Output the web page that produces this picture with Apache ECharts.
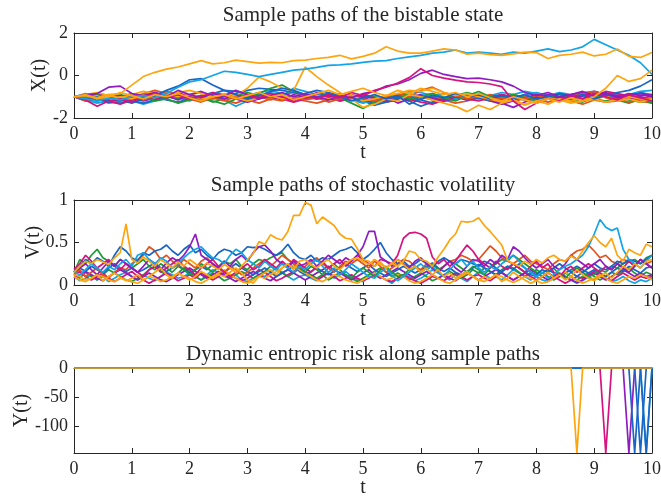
<!DOCTYPE html>
<html><head><meta charset="utf-8">
<script src="https://cdn.jsdelivr.net/npm/echarts@6/dist/echarts.min.js"></script>
<style>html,body{margin:0;padding:0;background:#fff}#c{width:661px;height:496px}</style>
</head><body><div id="c"></div>
<script>
// ---------- time grids ----------
const tX = [0,0.2,0.4,0.6,0.8,1,1.2,1.4,1.6,1.8,
  2,2.2,2.4,2.6,2.8,3,3.2,3.4,3.6,3.8,
  4,4.2,4.4,4.6,4.8,5,5.2,5.4,5.6,5.8,
  6,6.2,6.4,6.6,6.8,7,7.2,7.4,7.6,7.8,
  8,8.2,8.4,8.6,8.8,9,9.2,9.4,9.6,9.8,10];
const tV = [0,0.1,0.2,0.3,0.4,0.5,0.6,0.7,0.8,0.9,
  1,1.1,1.2,1.3,1.4,1.5,1.6,1.7,1.8,1.9,
  2,2.1,2.2,2.3,2.4,2.5,2.6,2.7,2.8,2.9,
  3,3.1,3.2,3.3,3.4,3.5,3.6,3.7,3.8,3.9,
  4,4.1,4.2,4.3,4.4,4.5,4.6,4.7,4.8,4.9,
  5,5.1,5.2,5.3,5.4,5.5,5.6,5.7,5.8,5.9,
  6,6.1,6.2,6.3,6.4,6.5,6.6,6.7,6.8,6.9,
  7,7.1,7.2,7.3,7.4,7.5,7.6,7.7,7.8,7.9,
  8,8.1,8.2,8.3,8.4,8.5,8.6,8.7,8.8,8.9,
  9,9.1,9.2,9.3,9.4,9.5,9.6,9.7,9.8,9.9,10];

// ---------- tick values ----------
const xTicks = [0,1,2,3,4,5,6,7,8,9,10];
const yTicksX = [-2,0,2];
const yTicksV = [0,0.5,1];
const yTicksY = [-100,-50,0];

// ---------- X(t): bistable state ----------
const xOrangeUp = [-1.0,-0.95,-1.05,-0.9,-0.85,-0.45,-0.05,0.15,0.3,0.4,
  0.55,0.7,0.55,0.6,0.72,0.65,0.58,0.62,0.6,0.7,
  0.72,0.8,0.85,0.95,0.78,0.9,1.05,1.35,1.15,1.05,
  1.05,1.15,1.25,1.2,1.0,1.05,0.98,0.95,1.02,1.1,
  1.08,0.8,0.95,1.0,1.1,0.92,1.0,1.25,0.9,0.85,1.08];
const xBlueUp = [-1.0,-1.1,-1.2,-1.05,-1.15,-1.0,-0.95,-1.05,-0.85,-0.55,
  -0.3,-0.2,0.0,0.2,0.15,0.05,-0.05,0.05,0.15,0.25,
  0.3,0.38,0.48,0.5,0.55,0.62,0.68,0.7,0.8,0.88,
  0.95,1.05,1.1,1.2,1.05,1.1,1.05,1.0,1.1,1.05,
  1.15,1.25,1.12,1.2,1.35,1.7,1.45,1.2,0.95,0.6,0.05];
const xOrangeMid = [-1.0,-1.1,-0.95,-1.2,-1.0,-1.1,-0.9,-1.05,-0.85,-1.0,
  -0.9,-1.1,-1.0,-0.85,-0.95,-0.6,-0.08,-0.3,-0.6,-0.7,
  0.4,-0.05,-0.45,-0.8,-1.1,-1.5,-1.35,-1.1,-1.2,-0.9,
  -1.0,-1.15,-1.3,-1.45,-1.7,-1.4,-1.6,-1.3,-1.15,-1.4,
  -1.2,-1.35,-1.1,-1.2,-1.05,-1.15,-0.95,-1.2,-1.1,-1.25,-1.1];
const xOrangeEnd = [-1.0,-0.9,-1.1,-1.0,-0.8,-0.95,-1.1,-0.9,-1.0,-0.85,
  -1.05,-1.2,-1.0,-0.9,-1.1,-0.95,-0.8,-1.0,-0.9,-1.15,
  -1.0,-0.85,-0.7,-0.9,-0.75,-0.6,-0.8,-0.95,-0.7,-0.85,
  -0.6,-0.75,-0.9,-0.8,-1.0,-0.85,-1.05,-1.2,-1.0,-1.15,
  -1.3,-1.1,-1.25,-1.05,-1.2,-1.0,-0.6,0.0,-0.28,-0.15,0.25];
const xMagentaPeak = [-1.0,-1.15,-1.45,-1.2,-1.1,-1.25,-1.0,-0.85,-1.05,-0.9,
  -1.1,-1.0,-0.8,-0.95,-1.1,-0.9,-1.05,-0.85,-1.0,-1.2,
  -0.95,-1.1,-0.9,-1.05,-0.8,-0.95,-0.7,-0.55,-0.35,-0.1,
  0.32,0.0,-0.12,-0.22,-0.3,-0.33,-0.4,-0.52,-1.2,-1.6,
  -1.3,-1.1,-1.2,-0.95,-1.1,-0.85,-1.0,-1.15,-0.9,-1.05,-1.2];
const xPurplePeak = [-1.0,-0.9,-0.85,-0.55,-0.5,-0.85,-0.95,-0.8,-1.0,-0.7,
  -0.9,-1.05,-0.85,-0.95,-0.7,-0.9,-1.1,-0.95,-0.8,-1.0,
  -0.85,-1.0,-1.15,-0.95,-1.05,-0.85,-0.75,-0.5,-0.4,-0.2,
  0.1,0.25,0.05,-0.05,-0.15,-0.12,-0.2,-0.3,-0.5,-0.8,
  -0.95,-0.8,-1.0,-0.9,-0.75,-0.95,-0.8,-1.05,-0.9,-0.85,-1.0];
const xBlueBump = [-1.0,-1.1,-1.0,-1.2,-1.15,-1.3,-1.1,-0.95,-0.7,-0.5,
  -0.2,-0.15,-0.45,-0.7,-0.9,-1.1,-0.95,-0.75,-0.6,-0.7,
  -0.9,-1.05,-0.85,-1.0,-1.2,-1.05,-0.9,-1.1,-0.95,-1.35,
  -1.1,-0.95,-1.05,-0.85,-1.0,-0.9,-1.1,-0.95,-1.05,-0.9,
  -1.1,-1.0,-0.85,-1.0,-0.9,-1.1,-0.95,-0.8,-0.7,-0.5,-0.2];
const xGreenA = [-1.0,-1.05,-0.9,-1.1,-1.0,-0.85,-1.0,-1.2,-1.1,-1.3,
  -1.15,-1.0,-1.2,-1.35,-1.1,-1.0,-0.85,-0.6,-0.45,-0.75,
  -0.9,-1.0,-0.85,-1.05,-1.3,-1.55,-1.25,-1.05,-0.9,-1.1,
  -1.0,-0.85,-1.05,-1.2,-0.95,-0.75,-1.0,-1.1,-0.9,-1.05,
  -1.15,-1.0,-0.9,-1.1,-1.25,-1.05,-0.95,-1.15,-1.3,-1.1,-1.3];
const xRedA = [-1.0,-1.2,-1.05,-0.9,-1.1,-1.0,-1.15,-0.95,-0.75,-0.9,
  -1.1,-1.25,-1.05,-1.2,-1.0,-1.15,-1.3,-1.1,-1.2,-1.0,
  -1.15,-1.05,-1.25,-1.1,-0.95,-1.1,-1.2,-1.0,-0.85,-1.0,
  -0.7,-0.55,-0.8,-0.95,-1.1,-1.0,-1.15,-1.05,-1.2,-1.1,
  -0.95,-1.1,-1.2,-1.0,-0.85,-0.75,-1.05,-1.1,-1.25,-1.15,-1.05];
const xSkyA = [-1.0,-0.85,-1.1,-1.3,-1.2,-1.1,-0.95,-1.1,-0.9,-1.05,
  -1.2,-1.0,-0.85,-1.15,-1.45,-1.2,-1.0,-0.8,-0.95,-0.6,
  -0.75,-0.9,-1.05,-0.9,-1.1,-1.0,-1.3,-1.15,-0.95,-0.75,
  -0.8,-0.95,-0.85,-1.0,-0.9,-1.05,-0.95,-0.8,-0.9,-0.75,
  -0.85,-0.95,-0.8,-0.9,-0.8,-0.75,-0.9,-0.85,-0.95,-0.8,-0.9];
const xPurpleA = [-1.0,-1.1,-0.85,-0.95,-1.1,-0.9,-1.05,-0.8,-0.95,-1.15,
  -0.9,-0.75,-0.95,-1.1,-0.9,-1.05,-0.85,-1.0,-1.15,-0.9,
  -1.05,-0.8,-0.95,-1.1,-0.9,-1.05,-1.2,-1.0,-1.3,-1.1,
  -0.95,-1.1,-1.2,-1.0,-1.15,-0.95,-1.1,-1.3,-1.5,-1.25,
  -1.05,-0.9,-1.05,-1.15,-0.95,-0.75,-0.9,-1.0,-0.85,-0.95,-0.9];
const xMagentaA = [-1.0,-0.9,-1.05,-1.2,-1.35,-1.15,-1.0,-1.1,-0.95,-0.8,
  -1.0,-1.15,-1.05,-0.9,-1.0,-1.2,-1.05,-0.95,-1.1,-1.25,
  -1.1,-0.95,-1.0,-1.2,-1.05,-0.9,-1.05,-1.15,-0.95,-1.1,
  -1.25,-1.35,-1.15,-1.0,-1.1,-1.2,-1.05,-0.9,-1.0,-1.1,
  -0.95,-1.05,-1.2,-0.9,-0.8,-0.95,-0.75,-0.85,-1.0,-1.1,-0.95];
const xBlueA = [-1.0,-1.2,-1.1,-1.25,-1.3,-1.2,-1.3,-1.15,-1.05,-0.9,
  -1.05,-0.95,-1.1,-1.0,-0.85,-0.7,-0.6,-0.65,-0.7,-0.8,
  -0.95,-1.1,-1.0,-0.85,-1.0,-1.15,-1.3,-1.2,-1.05,-1.2,
  -1.45,-1.25,-1.1,-1.0,-1.15,-1.05,-1.2,-1.1,-0.95,-1.05,
  -1.15,-1.0,-1.1,-0.95,-1.05,-0.9,-1.0,-1.1,-0.95,-1.05,-1.15];
const xGreenB = [-1.0,-0.95,-1.15,-1.05,-0.9,-1.05,-0.9,-0.85,-1.0,-1.1,
  -0.95,-1.05,-1.25,-1.1,-0.95,-0.8,-0.95,-1.05,-0.9,-0.8,
  -0.95,-1.1,-1.0,-1.15,-1.05,-0.9,-1.0,-1.1,-0.95,-0.85,
  -1.0,-1.15,-1.05,-0.95,-0.8,-0.95,-1.1,-1.0,-0.9,-1.05,
  -1.2,-1.1,-1.0,-1.15,-1.0,-1.1,-1.2,-1.05,-1.15,-1.25,-1.2];
const xRedB = [-1.0,-1.05,-1.2,-1.1,-0.95,-1.1,-0.85,-0.7,-0.85,-1.0,
  -0.9,-0.8,-1.0,-1.15,-1.3,-1.1,-1.0,-1.15,-0.95,-1.1,
  -1.2,-1.3,-1.15,-1.0,-1.15,-1.25,-1.1,-0.95,-1.05,-1.2,
  -1.1,-1.0,-1.15,-1.3,-1.2,-1.05,-0.9,-1.05,-1.15,-1.0,
  -1.1,-1.25,-1.1,-1.2,-1.35,-1.15,-1.25,-1.2,-1.05,-1.2,-1.3];
const xSkyB = [-1.0,-1.15,-1.3,-1.2,-1.05,-1.2,-1.35,-1.2,-1.05,-0.95,
  -1.1,-0.95,-0.8,-0.9,-1.05,-0.95,-0.8,-0.7,-0.85,-1.0,
  -1.1,-0.95,-0.85,-1.0,-1.15,-1.3,-1.15,-1.0,-0.9,-1.05,
  -0.95,-0.85,-1.0,-1.1,-0.95,-0.85,-1.0,-1.15,-1.05,-0.9,
  -0.8,-0.95,-1.05,-0.9,-1.0,-1.1,-0.95,-1.05,-0.9,-0.75,-0.7];
const xOrangeB = [-1.0,-0.9,-0.8,-0.95,-1.05,-0.9,-0.75,-0.85,-0.95,-0.8,
  -0.7,-0.85,-1.0,-0.9,-1.05,-1.2,-1.05,-0.95,-1.1,-1.0,
  -0.85,-0.95,-1.1,-1.0,-0.9,-1.2,-1.1,-0.95,-0.85,-0.7,
  -0.75,-0.6,-0.8,-0.95,-0.85,-1.0,-1.1,-1.25,-1.15,-1.35,
  -1.2,-1.05,-1.15,-1.3,-1.2,-1.1,-1.25,-1.15,-1.0,-1.1,-1.15];
const xBlueB = [-1.0,-1.05,-0.95,-1.1,-1.2,-1.05,-0.9,-1.0,-1.15,-1.25,
  -1.1,-0.95,-0.85,-0.7,-0.75,-0.9,-1.05,-0.95,-1.1,-1.0,
  -0.85,-0.7,-0.8,-0.95,-1.1,-1.2,-1.4,-1.25,-1.1,-1.0,
  -1.15,-1.3,-1.2,-1.05,-0.95,-1.1,-1.0,-0.9,-1.05,-1.15,
  -1.0,-0.9,-1.05,-1.15,-1.0,-0.85,-0.95,-1.05,-0.9,-0.8,-0.95];
const xPurpleB = [-1.0,-1.1,-1.2,-1.05,-0.95,-1.1,-1.2,-1.05,-0.9,-1.0,
  -1.1,-1.2,-1.05,-0.95,-1.1,-1.25,-1.1,-0.95,-1.05,-1.15,
  -1.0,-0.9,-1.05,-1.2,-1.1,-0.95,-1.1,-1.25,-1.15,-1.0,
  -0.9,-1.05,-1.2,-1.1,-0.95,-1.05,-1.2,-1.35,-1.2,-1.05,
  -0.9,-1.0,-0.85,-0.95,-1.1,-1.0,-0.85,-0.95,-1.1,-1.0,-1.1];

// ---------- V(t): stochastic volatility ----------
const vOrangeA = [0.15,0.22,0.28,0.25,0.3,0.27,0.24,0.32,0.38,0.72,
  0.3,0.26,0.33,0.28,0.22,0.3,0.25,0.2,0.27,0.22,
  0.3,0.25,0.2,0.26,0.22,0.18,0.24,0.2,0.15,0.22,
  0.3,0.37,0.51,0.48,0.59,0.55,0.53,0.63,0.82,0.82,
  0.97,0.94,0.72,0.8,0.75,0.7,0.6,0.55,0.54,0.43,
  0.3,0.28,0.22,0.27,0.2,0.25,0.3,0.24,0.18,0.22,
  0.15,0.2,0.12,0.18,0.1,0.14,0.08,0.12,0.16,0.1,
  0.05,0.1,0.07,0.12,0.04,0.08,0.15,0.1,0.06,0.02,
  0.05,0.1,0.15,0.08,0.12,0.06,0.1,0.18,0.12,0.08,
  0.05,0.1,0.14,0.08,0.15,0.22,0.18,0.25,0.2,0.28,0.3];
const vOrangeB = [0.12,0.1,0.06,0.08,0.12,0.05,0.1,0.14,0.09,0.05,
  0.08,0.12,0.06,0.1,0.15,0.2,0.12,0.08,0.14,0.1,
  0.06,0.1,0.16,0.12,0.08,0.12,0.1,0.15,0.2,0.14,
  0.06,0.02,0.1,0.14,0.18,0.12,0.2,0.25,0.18,0.28,
  0.3,0.24,0.2,0.26,0.3,0.22,0.18,0.25,0.3,0.32,
  0.28,0.24,0.3,0.25,0.2,0.26,0.22,0.28,0.4,0.38,
  0.3,0.28,0.22,0.33,0.42,0.53,0.6,0.75,0.74,0.75,
  0.79,0.7,0.63,0.55,0.47,0.29,0.25,0.22,0.28,0.24,
  0.3,0.26,0.32,0.35,0.3,0.28,0.34,0.3,0.4,0.5,
  0.58,0.5,0.45,0.55,0.35,0.28,0.42,0.38,0.35,0.48,0.45];
const vSkyA = [0.15,0.12,0.18,0.25,0.2,0.15,0.22,0.18,0.25,0.3,
  0.22,0.35,0.38,0.3,0.25,0.32,0.28,0.2,0.25,0.32,
  0.38,0.42,0.45,0.38,0.32,0.3,0.25,0.35,0.42,0.38,
  0.3,0.25,0.2,0.28,0.22,0.18,0.25,0.2,0.15,0.22,
  0.18,0.25,0.3,0.22,0.15,0.2,0.12,0.18,0.25,0.2,
  0.15,0.1,0.08,0.15,0.2,0.12,0.05,0.1,0.15,0.2,
  0.25,0.18,0.22,0.15,0.1,0.18,0.25,0.3,0.22,0.28,
  0.2,0.15,0.22,0.18,0.25,0.3,0.35,0.28,0.2,0.15,
  0.1,0.15,0.08,0.12,0.18,0.22,0.25,0.3,0.35,0.45,
  0.6,0.77,0.68,0.64,0.67,0.42,0.3,0.25,0.2,0.28,0.35];
const vPurpleA = [0.15,0.2,0.25,0.18,0.12,0.2,0.28,0.22,0.3,0.25,
  0.2,0.15,0.22,0.3,0.25,0.18,0.26,0.32,0.28,0.35,
  0.45,0.6,0.35,0.3,0.25,0.2,0.28,0.22,0.3,0.35,
  0.28,0.38,0.45,0.47,0.4,0.3,0.25,0.2,0.28,0.22,
  0.25,0.3,0.22,0.28,0.35,0.3,0.25,0.32,0.28,0.35,
  0.45,0.63,0.63,0.33,0.28,0.22,0.3,0.25,0.2,0.28,
  0.32,0.25,0.2,0.15,0.22,0.28,0.2,0.15,0.22,0.3,
  0.28,0.22,0.3,0.25,0.35,0.3,0.45,0.4,0.32,0.25,
  0.2,0.25,0.3,0.22,0.18,0.25,0.35,0.3,0.25,0.2,
  0.25,0.3,0.22,0.18,0.25,0.2,0.15,0.22,0.3,0.25,0.2];
const vMagentaA = [0.18,0.25,0.35,0.28,0.2,0.25,0.3,0.22,0.18,0.25,
  0.2,0.15,0.1,0.18,0.22,0.15,0.2,0.25,0.3,0.22,
  0.18,0.12,0.2,0.25,0.3,0.22,0.15,0.1,0.15,0.2,
  0.25,0.18,0.22,0.3,0.25,0.2,0.28,0.22,0.3,0.25,
  0.2,0.15,0.22,0.28,0.2,0.25,0.3,0.22,0.28,0.35,
  0.3,0.25,0.22,0.3,0.28,0.25,0.35,0.55,0.61,0.62,
  0.6,0.55,0.33,0.25,0.3,0.22,0.28,0.38,0.47,0.4,
  0.3,0.25,0.2,0.28,0.22,0.18,0.25,0.2,0.15,0.22,
  0.28,0.2,0.25,0.15,0.1,0.18,0.22,0.15,0.2,0.25,
  0.2,0.15,0.22,0.18,0.25,0.2,0.28,0.22,0.3,0.25,0.2];
const vBlueA = [0.15,0.22,0.3,0.25,0.32,0.28,0.22,0.35,0.45,0.4,
  0.32,0.28,0.38,0.35,0.4,0.42,0.47,0.4,0.35,0.42,
  0.47,0.38,0.42,0.35,0.3,0.38,0.42,0.4,0.35,0.38,
  0.45,0.44,0.45,0.42,0.38,0.35,0.4,0.48,0.38,0.32,
  0.3,0.35,0.28,0.32,0.3,0.35,0.4,0.42,0.45,0.38,
  0.3,0.35,0.42,0.5,0.38,0.3,0.25,0.28,0.22,0.25,
  0.3,0.25,0.2,0.28,0.32,0.28,0.25,0.3,0.28,0.25,
  0.22,0.28,0.25,0.2,0.15,0.22,0.18,0.25,0.2,0.15,
  0.12,0.18,0.15,0.2,0.25,0.2,0.15,0.1,0.15,0.2,
  0.25,0.2,0.18,0.22,0.28,0.25,0.3,0.28,0.25,0.3,0.35];
const vRedA = [0.12,0.18,0.1,0.15,0.2,0.12,0.08,0.15,0.2,0.18,
  0.25,0.3,0.35,0.45,0.4,0.3,0.35,0.28,0.22,0.3,
  0.25,0.2,0.28,0.32,0.25,0.2,0.15,0.22,0.18,0.12,
  0.15,0.2,0.25,0.3,0.22,0.28,0.35,0.3,0.25,0.2,
  0.22,0.28,0.32,0.25,0.2,0.15,0.22,0.28,0.25,0.3,
  0.25,0.2,0.28,0.22,0.15,0.2,0.25,0.3,0.28,0.22,
  0.18,0.25,0.2,0.15,0.22,0.28,0.3,0.35,0.32,0.28,
  0.3,0.38,0.46,0.4,0.32,0.28,0.25,0.3,0.35,0.28,
  0.25,0.22,0.18,0.25,0.3,0.28,0.35,0.4,0.42,0.47,
  0.4,0.32,0.35,0.28,0.25,0.3,0.28,0.22,0.3,0.25,0.28];
const vGreenA = [0.15,0.3,0.25,0.35,0.42,0.32,0.28,0.22,0.3,0.25,
  0.2,0.25,0.3,0.22,0.18,0.25,0.2,0.15,0.22,0.18,
  0.12,0.18,0.25,0.2,0.15,0.22,0.28,0.25,0.3,0.22,
  0.18,0.25,0.3,0.28,0.32,0.35,0.38,0.3,0.25,0.2,
  0.15,0.22,0.18,0.12,0.2,0.25,0.18,0.12,0.08,0.15,
  0.2,0.15,0.1,0.18,0.22,0.15,0.1,0.12,0.18,0.22,
  0.15,0.2,0.25,0.18,0.22,0.28,0.25,0.2,0.15,0.22,
  0.18,0.12,0.2,0.25,0.3,0.28,0.35,0.3,0.25,0.2,
  0.15,0.1,0.15,0.2,0.12,0.08,0.15,0.2,0.15,0.1,
  0.12,0.18,0.15,0.22,0.2,0.25,0.28,0.3,0.25,0.32,0.35];
const vSkyB = [0.1,0.05,0.08,0.12,0.06,0.1,0.04,0.08,0.12,0.15,
  0.1,0.06,0.12,0.08,0.05,0.1,0.15,0.12,0.08,0.1,
  0.14,0.1,0.06,0.12,0.18,0.15,0.1,0.08,0.12,0.06,
  0.04,0.08,0.12,0.1,0.15,0.2,0.15,0.1,0.06,0.1,
  0.12,0.08,0.05,0.1,0.14,0.08,0.12,0.16,0.1,0.06,
  0.04,0.1,0.15,0.1,0.06,0.02,0.08,0.12,0.1,0.05,
  0.08,0.12,0.18,0.14,0.1,0.06,0.12,0.08,0.04,0.1,
  0.15,0.12,0.08,0.1,0.06,0.12,0.18,0.14,0.1,0.06,
  0.1,0.06,0.04,0.08,0.12,0.1,0.06,0.02,0.05,0.1,
  0.06,0.1,0.08,0.04,0.06,0.1,0.05,0.02,0.06,0.04,0.08];
const vGreenB = [0.12,0.08,0.15,0.1,0.06,0.12,0.18,0.14,0.1,0.06,
  0.04,0.08,0.12,0.18,0.22,0.16,0.12,0.08,0.14,0.2,
  0.16,0.1,0.06,0.1,0.14,0.1,0.05,0.08,0.12,0.16,
  0.12,0.08,0.12,0.16,0.22,0.18,0.14,0.1,0.14,0.2,
  0.16,0.12,0.08,0.12,0.06,0.1,0.15,0.12,0.08,0.04,
  0.08,0.12,0.16,0.2,0.15,0.1,0.14,0.1,0.06,0.1,
  0.14,0.1,0.05,0.08,0.12,0.16,0.12,0.08,0.12,0.18,
  0.14,0.2,0.16,0.12,0.18,0.22,0.2,0.15,0.1,0.14,
  0.18,0.14,0.1,0.06,0.1,0.14,0.1,0.06,0.1,0.14,
  0.1,0.06,0.1,0.15,0.12,0.16,0.2,0.14,0.1,0.15,0.12];
const vMagentaB = [0.12,0.16,0.1,0.06,0.1,0.14,0.08,0.04,0.08,0.12,
  0.16,0.1,0.06,0.02,0.06,0.1,0.14,0.1,0.05,0.08,
  0.12,0.08,0.14,0.1,0.06,0.1,0.15,0.12,0.08,0.05,
  0.08,0.12,0.18,0.15,0.1,0.05,0.08,0.12,0.16,0.2,
  0.15,0.1,0.06,0.1,0.14,0.1,0.05,0.08,0.12,0.08,
  0.05,0.08,0.12,0.1,0.06,0.04,0.08,0.12,0.08,0.05,
  0.02,0.06,0.1,0.08,0.05,0.1,0.14,0.1,0.06,0.1,
  0.12,0.08,0.05,0.1,0.15,0.1,0.06,0.1,0.14,0.1,
  0.06,0.1,0.14,0.1,0.06,0.02,0.06,0.1,0.08,0.12,
  0.16,0.12,0.08,0.05,0.1,0.14,0.1,0.06,0.1,0.08,0.1];
const vOrangeC = [0.1,0.06,0.04,0.08,0.12,0.1,0.06,0.04,0.08,0.06,
  0.04,0.02,0.06,0.1,0.08,0.04,0.06,0.1,0.14,0.1,
  0.08,0.04,0.02,0.06,0.1,0.14,0.18,0.12,0.08,0.04,
  0.02,0.06,0.1,0.08,0.12,0.16,0.2,0.25,0.22,0.18,
  0.14,0.1,0.06,0.04,0.08,0.12,0.1,0.06,0.04,0.02,
  0.06,0.1,0.14,0.1,0.06,0.08,0.12,0.1,0.05,0.02,
  0.04,0.08,0.12,0.08,0.04,0.02,0.06,0.1,0.14,0.1,
  0.06,0.04,0.08,0.12,0.1,0.06,0.03,0.06,0.1,0.08,
  0.05,0.02,0.04,0.08,0.12,0.15,0.1,0.06,0.02,0.05,
  0.08,0.12,0.08,0.04,0.02,0.06,0.1,0.08,0.12,0.1,0.06];
const vPurpleB = [0.08,0.12,0.16,0.12,0.08,0.05,0.1,0.14,0.18,0.14,
  0.1,0.06,0.1,0.14,0.1,0.06,0.04,0.08,0.12,0.16,
  0.2,0.16,0.12,0.08,0.12,0.16,0.12,0.08,0.04,0.08,
  0.12,0.16,0.12,0.08,0.05,0.1,0.14,0.18,0.14,0.1,
  0.06,0.1,0.14,0.18,0.22,0.18,0.14,0.1,0.06,0.1,
  0.14,0.18,0.12,0.08,0.12,0.16,0.2,0.16,0.12,0.08,
  0.12,0.16,0.12,0.08,0.12,0.08,0.05,0.1,0.14,0.1,
  0.06,0.1,0.14,0.18,0.14,0.1,0.06,0.1,0.14,0.18,
  0.14,0.1,0.06,0.1,0.14,0.1,0.06,0.03,0.06,0.1,
  0.14,0.1,0.06,0.1,0.14,0.18,0.14,0.1,0.14,0.1,0.12];
const vBlueB = [0.15,0.2,0.16,0.22,0.18,0.14,0.2,0.25,0.2,0.16,
  0.2,0.15,0.18,0.22,0.26,0.2,0.16,0.2,0.24,0.18,
  0.14,0.18,0.22,0.18,0.24,0.2,0.15,0.2,0.25,0.2,
  0.16,0.12,0.16,0.2,0.15,0.1,0.14,0.18,0.22,0.16,
  0.12,0.16,0.2,0.16,0.12,0.16,0.2,0.25,0.2,0.16,
  0.2,0.24,0.18,0.14,0.1,0.14,0.18,0.22,0.18,0.14,
  0.18,0.22,0.26,0.2,0.16,0.2,0.15,0.12,0.16,0.2,
  0.24,0.2,0.16,0.12,0.16,0.2,0.25,0.2,0.15,0.12,
  0.1,0.14,0.18,0.14,0.1,0.14,0.18,0.22,0.18,0.14,
  0.18,0.14,0.1,0.15,0.2,0.16,0.22,0.18,0.14,0.2,0.22];

// ---------- Y(t): dynamic entropic risk (t, value) ----------
const yMagentaT = [0,9.1,9.2,9.3,10];  const yMagentaV = [0,0,-145,0,0];
const yPurpleT  = [0,9.5,9.6,9.7,10];  const yPurpleV  = [0,0,-145,0,0];
const yBlue1T   = [0,9.6,9.7,9.8,10];  const yBlue1V   = [0,0,-145,0,0];
const yBlue2T   = [0,9.7,9.8,9.9,10];  const yBlue2V   = [0,0,-145,0,0];
const ySkyT     = [0,9.8,9.9,10];      const ySkyV     = [0,0,-145,0];
const yBlue3T   = [0,9.8,9.9,10];      const yBlue3V   = [0,0,-145,0];
const yOrangeT  = [0,8.6,8.7,8.8,10];  const yOrangeV  = [0,0,-145,0,0];

// ---------- styling ----------
const C = {orange:'#FDA50F', sky:'#12A4E6', blue:'#1765C4', purple:'#8E1CC0',
  magenta:'#D5127E', green:'#1E9A36', red:'#E2521D'};
const AX = '#262626';
const FONT = "'Liberation Serif','Times New Roman',serif";
const LW = 1.7;

const gridTops = [33, 200, 368];
const grids = gridTops.map(t => ({left:74, right:9, top:t, height:85,
  containLabel:false, outerBoundsMode:'none'}));

function xAxes(g) {
  const base = {type:'value', gridIndex:g, min:0, max:10, interval:1,
    axisLine:{show:true, onZero:false, lineStyle:{color:AX, width:1}},
    axisTick:{show:true, inside:true, length:5, lineStyle:{color:AX}},
    splitLine:{show:false}};
  return [
    Object.assign({}, base, {position:'bottom',
      axisLabel:{show:true, color:AX, fontFamily:FONT, fontSize:18, margin:7,
        customValues: xTicks, hideOverlap:false},
      name:'t', nameLocation:'middle', nameGap:25, nameMoveOverlap:false,
      nameTextStyle:{color:AX, fontFamily:FONT, fontSize:20}}),
    Object.assign({}, base, {position:'top', axisLabel:{show:false}})
  ];
}
function yAxes(g, min, max, ticks, name, gap) {
  const base = {type:'value', gridIndex:g, min:min, max:max,
    axisLine:{show:true, onZero:false, lineStyle:{color:AX, width:1}},
    axisTick:{show:true, inside:true, length:5, lineStyle:{color:AX}, customValues: ticks},
    splitLine:{show:false}};
  return [
    Object.assign({}, base, {position:'left',
      axisLabel:{show:true, color:AX, fontFamily:FONT, fontSize:18, margin:6, customValues: ticks},
      name:name, nameLocation:'middle', nameGap:gap, nameMoveOverlap:false,
      nameTextStyle:{color:AX, fontFamily:FONT, fontSize:20}}),
    Object.assign({}, base, {position:'right', axisLabel:{show:false}})
  ];
}

const xAxis = [].concat(xAxes(0), xAxes(1), xAxes(2));
const yAxis = [].concat(
  yAxes(0, -2, 2, yTicksX, 'X(t)', 24),
  yAxes(1, 0, 1, yTicksV, 'V(t)', 30),
  yAxes(2, -145, 0, yTicksY, 'Y(t)', 42));

function line(g, ts, vals, color) {
  return {type:'line', xAxisIndex:g*2, yAxisIndex:g*2, symbol:'none', showSymbol:false,
    data: ts.map((t,i) => [t, vals[i]]), lineStyle:{color:color, width:LW},
    itemStyle:{color:color}, silent:true, animation:false};
}

const series = [
  // X(t)
  line(0,tX,xSkyA,C.sky), line(0,tX,xGreenB,C.green), line(0,tX,xRedB,C.red),
  line(0,tX,xPurpleB,C.purple), line(0,tX,xBlueB,C.blue), line(0,tX,xSkyB,C.sky),
  line(0,tX,xBlueA,C.blue), line(0,tX,xPurpleA,C.purple), line(0,tX,xMagentaA,C.magenta),
  line(0,tX,xGreenA,C.green), line(0,tX,xRedA,C.red), line(0,tX,xOrangeB,C.orange),
  line(0,tX,xOrangeMid,C.orange), line(0,tX,xBlueBump,C.blue),
  line(0,tX,xPurplePeak,C.purple), line(0,tX,xMagentaPeak,C.magenta),
  line(0,tX,xBlueUp,C.sky), line(0,tX,xOrangeEnd,C.orange), line(0,tX,xOrangeUp,C.orange),
  // V(t)
  line(1,tV,vSkyB,C.sky), line(1,tV,vGreenB,C.green), line(1,tV,vMagentaB,C.magenta),
  line(1,tV,vPurpleB,C.purple), line(1,tV,vBlueB,C.blue),
  line(1,tV,vOrangeC,C.orange), line(1,tV,vGreenA,C.green), line(1,tV,vRedA,C.red),
  line(1,tV,vBlueA,C.blue), line(1,tV,vMagentaA,C.magenta), line(1,tV,vPurpleA,C.purple),
  line(1,tV,vSkyA,C.sky), line(1,tV,vOrangeB,C.orange), line(1,tV,vOrangeA,C.orange),
  // Y(t)
  line(2,yMagentaT,yMagentaV,C.magenta), line(2,yPurpleT,yPurpleV,C.purple),
  line(2,yBlue1T,yBlue1V,C.blue), line(2,yBlue2T,yBlue2V,C.blue),
  line(2,ySkyT,ySkyV,C.sky), line(2,yBlue3T,yBlue3V,C.blue),
  line(2,yOrangeT,yOrangeV,C.orange)
];

const titleStyle = {color:AX, fontFamily:FONT, fontSize:21, fontWeight:'normal'};
const titles = [
  {text:'Sample paths of the bistable state', top:5},
  {text:'Sample paths of stochastic volatility', top:175},
  {text:'Dynamic entropic risk along sample paths', top:344}
].map(o => ({text:o.text, left:363, top:o.top, textAlign:'center', padding:0, textStyle:titleStyle}));

const chart = echarts.init(document.getElementById('c'), null, {renderer:'canvas'});
chart.setOption({
  animation:false, backgroundColor:'#fff',
  title: titles, grid: grids, xAxis: xAxis, yAxis: yAxis, series: series
});
</script></body></html>
